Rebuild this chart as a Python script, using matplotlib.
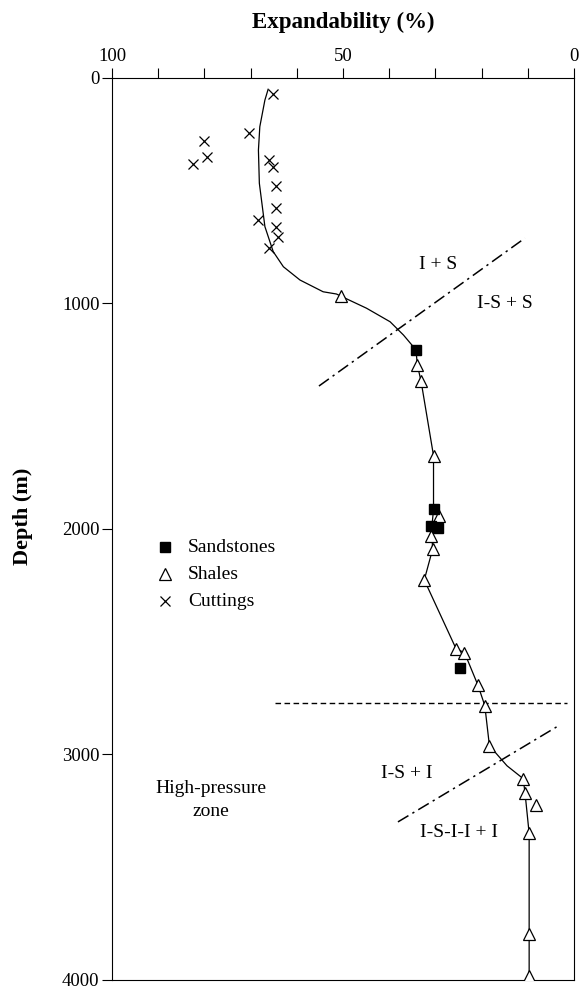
import matplotlib
matplotlib.use('Agg')
import matplotlib.pyplot as plt
import numpy as np

plt.rcParams['font.family'] = ['Liberation Serif', 'DejaVu Serif']

# expandability (%) vs depth (m)
sand_exp = [34.2, 30.4, 31.0, 29.4, 24.7]
sand_depth = [1206, 1913, 1987, 1997, 2618]

shale_exp = [50.4, 33.9, 33.1, 30.4, 29.2, 31.0, 30.6, 32.4, 25.5, 23.7,
             20.8, 19.3, 18.3, 11.0, 10.6, 8.2, 9.7, 9.7, 9.7]
shale_depth = [968, 1273, 1344, 1675, 1942, 2030, 2090, 2226, 2532, 2548,
               2692, 2783, 2961, 3107, 3169, 3224, 3350, 3796, 3982]

cut_exp = [65.2, 70.3, 80.0, 79.4, 82.5, 66.0, 65.2, 64.6, 64.6, 68.3, 64.6, 64.0, 66.0]
cut_depth = [72, 245, 279, 352, 380, 364, 393, 478, 575, 631, 662, 704, 754]

# hand-drawn trend line
trend_exp = [66.2, 66.9, 68.0, 68.3, 68.1, 66.9, 65.1, 62.9, 59.3, 54.3, 51.4, 50.4,
             44.9, 39.8, 36.9, 34.8, 34.2, 33.9, 33.1, 30.4, 30.4, 30.8, 30.6, 32.4,
             25.5, 23.7, 20.8, 19.3, 18.3, 14.5, 11.0, 10.6, 9.7, 9.7]
trend_depth = [50, 98, 216, 320, 467, 659, 770, 837, 896, 948, 958, 968,
               1021, 1081, 1140, 1191, 1206, 1273, 1344, 1675, 1913, 2000, 2090, 2226,
               2532, 2548, 2692, 2783, 2961, 3050, 3107, 3169, 3350, 3982]

# zone boundaries
bound1_exp = [55.2, 10.6]
bound1_depth = [1366, 710]
bound2_exp = [38.1, 3.7]
bound2_depth = [3299, 2877]
pressure_exp = [64.7, 1.5]
pressure_depth = [2770, 2770]

fig = plt.figure(figsize=(5.79, 9.86), dpi=100)
ax = fig.add_axes([0.1934, 0.0061, 0.7979, 0.9148])

ax.plot(trend_exp, trend_depth, color='black', lw=0.9, zorder=2)
ax.plot(bound1_exp, bound1_depth, color='black', lw=1.1, dashes=(8, 3, 1.5, 3))
ax.plot(bound2_exp, bound2_depth, color='black', lw=1.1, dashes=(8, 3, 1.5, 3))
ax.plot(pressure_exp, pressure_depth, color='black', lw=1.0, dashes=(4, 2.5))

ax.plot(cut_exp, cut_depth, 'x', color='black', ms=7, mew=0.9, zorder=3)
ax.plot(shale_exp, shale_depth, '^', mfc='white', mec='black', ms=8, mew=0.9, zorder=4)
ax.plot(sand_exp, sand_depth, 's', color='black', ms=7, zorder=5)

ax.set_xlim(100, 0)
ax.set_ylim(4000, 0)
ax.xaxis.tick_top()
ax.set_xticks([100, 50, 0])
ax.set_xticklabels(['100', '50', '0'])
ax.set_xticks(np.arange(0, 101, 10), minor=True)
ax.set_yticks([0, 1000, 2000, 3000, 4000])
ax.tick_params(axis='both', which='both', direction='out', length=7, width=0.8,
               labelsize=13.5, pad=2)

fig.text(343 / 579, 1 - 22 / 986, 'Expandability (%)', fontsize=16.5,
         fontweight='bold', ha='center', va='center')
fig.text(23 / 579, 1 - 516 / 986, 'Depth (m)', fontsize=16, fontweight='bold',
         rotation=90, ha='center', va='center')

for s in ax.spines.values():
    s.set_linewidth(0.8)

txt = dict(fontsize=14, ha='center', va='center')
ax.text(29.4, 829, 'I + S', **txt)
ax.text(15.0, 1000, 'I-S + S', **txt)
ax.text(36.2, 3083, 'I-S + I', **txt)
ax.text(24.9, 3344, 'I-S-I-I + I', **txt)
ax.text(78.6, 3202, 'High-pressure\nzone', linespacing=1.5, **txt)

# legend drawn as plain markers + text, no frame
leg_rows = [('s', 'Sandstones', 2080), ('^', 'Shales', 2200), ('x', 'Cuttings', 2320)]
for m, lab, d in leg_rows:
    if m == '^':
        ax.plot([88.5], [d], m, mfc='white', mec='black', ms=8, mew=0.9)
    elif m == 'x':
        ax.plot([88.5], [d], m, color='black', ms=7, mew=0.9)
    else:
        ax.plot([88.5], [d], m, color='black', ms=7)
    ax.text(83.5, d, lab, fontsize=14, ha='left', va='center')

fig.savefig('out.png', dpi=100)
